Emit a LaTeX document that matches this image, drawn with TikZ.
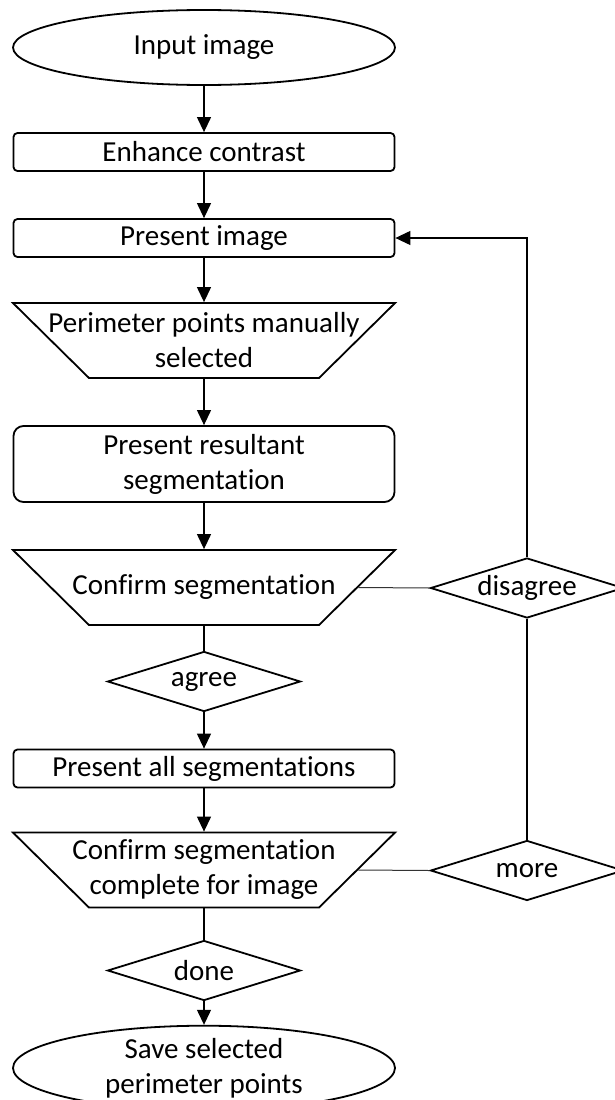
\documentclass[tikz,border=0pt]{standalone}
\usepackage{fontspec}
\setmainfont{Carlito}[Ligatures=NoCommon]
\usetikzlibrary{shapes.geometric,arrows.meta}

\begin{document}
\begin{tikzpicture}[x=1pt, y=-1pt,
    every node/.style={font=\fontsize{29}{35}\selectfont, align=center, inner sep=0pt},
    term/.style={draw, line width=1.8pt, ellipse, minimum width=382, minimum height=75},
    box/.style={draw, line width=1.8pt, rectangle, rounded corners=4pt, minimum width=381, minimum height=38},
    bigbox/.style={box, rounded corners=10pt, minimum height=76},
    manual/.style={draw, line width=1.8pt, trapezium, shape border rotate=180,
        trapezium left angle=44.6, trapezium right angle=44.6, inner xsep=115pt, inner ysep=37.5pt},
    choice/.style={draw, line width=1.8pt, diamond, aspect=3, minimum width=193, minimum height=60},
    flow/.style={line width=1.2pt, -{Triangle[width=14pt, length=15pt]}},
    plain/.style={line width=1.2pt},
    side/.style={line width=1pt, black!80}]
    \useasboundingbox (0,0) rectangle (614,1100);

    % Main column
    \node[term]    (input)   at (204,47.5)  {Input image};
    \node[box]     (enhance) at (204,152)   {Enhance contrast};
    \node[box]     (present) at (204,238)   {Present image};
    \node[manual]  (select)  at (204,340.5) {};
    \node          (selecttext) at (select) {Perimeter points manually\\selected};
    \node[bigbox]  (result)  at (204,464)   {Present resultant\\segmentation};
    \node[manual]  (confirm) at (204,587.5) {};
    \node          (confirmtext) at (confirm) {Confirm segmentation};
    \node[choice]  (agree)   at (204,681.5) {agree};
    \node[box]     (all)     at (204,768.5) {Present all segmentations};
    \node[manual]  (final)   at (204,870)   {};
    \node          (finaltext) at (final) {Confirm segmentation\\complete for image};
    \node[choice]  (done)    at (204,970.5) {done};
    \node[term]    (save)    at (204,1068)  {Save selected\\perimeter points};

    % Side branches
    \node[choice]  (disagree) at (527,588)   {disagree};
    \node[choice]  (more)     at (527,870.5) {more};

    % Connectors
    \draw[flow] (input) -- (enhance);
    \draw[flow] (enhance) -- (present);
    \draw[flow] (present) -- (select);
    \draw[flow] (select) -- (result);
    \draw[flow] (result) -- (confirm);
    \draw[plain] (confirm) -- (agree);
    \draw[flow] (agree) -- (all);
    \draw[flow] (all) -- (final);
    \draw[plain] (final) -- (done);
    \draw[flow] (done) -- (save);

    % Loop back
    \draw[side] (confirm.east) -- (disagree.west);
    \draw[side] (final.east) -- (more.west);
    \draw[plain] (more.north) -- (disagree.south);
    \draw[flow] (disagree.north) |- (present.east);
\end{tikzpicture}
\end{document}
